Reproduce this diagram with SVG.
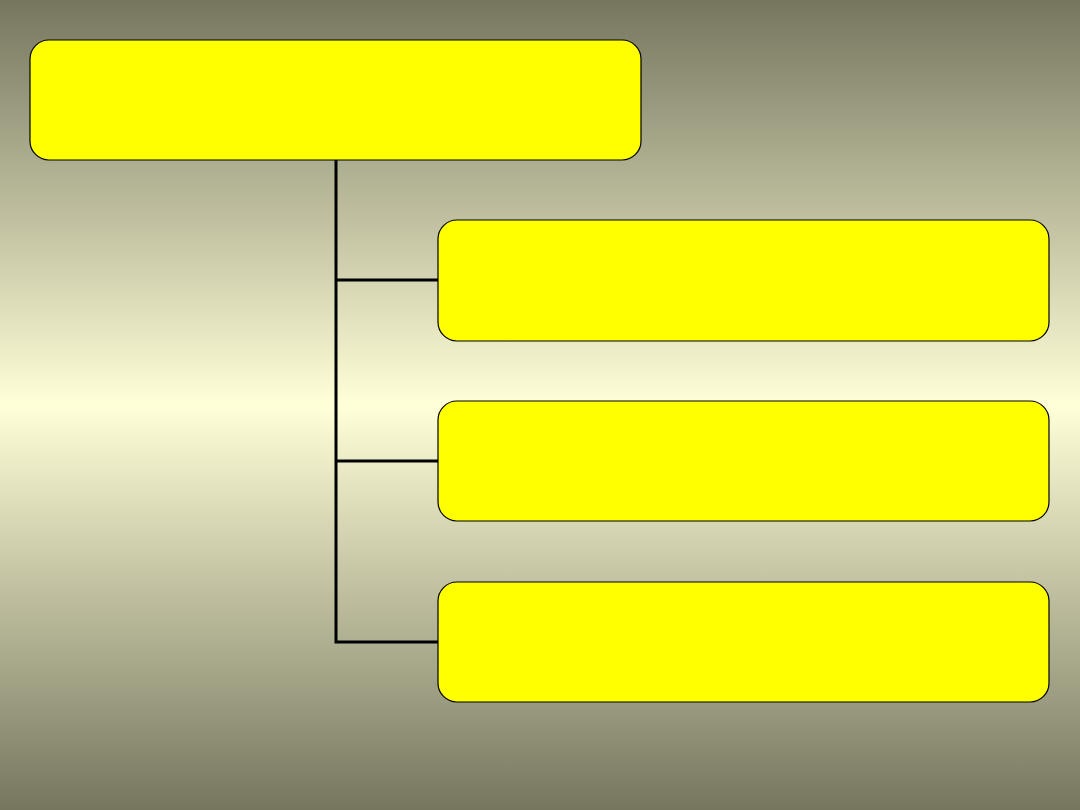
<svg xmlns="http://www.w3.org/2000/svg" width="1080" height="810" viewBox="0 0 1080 810">
<defs>
<linearGradient id="bg" x1="0" y1="0" x2="0" y2="1">
<stop offset="0" stop-color="#76765f"/>
<stop offset="0.5" stop-color="#ffffd8"/>
<stop offset="1" stop-color="#76765f"/>
</linearGradient>
<style>
.box{fill:#ffff00;stroke:#000;stroke-width:1.2}
.conn{fill:none;stroke:#000;stroke-width:3}
</style>
</defs>
<rect width="1080" height="810" fill="url(#bg)"/>
<g id="connectors">
<path class="conn" d="M336 160 V642 H438"/>
<path class="conn" d="M336 280 H438"/>
<path class="conn" d="M336 461 H438"/>
</g>
<g id="node-top"><rect class="box" x="30" y="40" width="611" height="120" rx="19"/></g>
<g id="node-1"><rect class="box" x="438" y="220" width="611" height="121" rx="19"/></g>
<g id="node-2"><rect class="box" x="438" y="401" width="611" height="120" rx="19"/></g>
<g id="node-3"><rect class="box" x="438" y="582" width="611" height="120" rx="19"/></g>
</svg>
